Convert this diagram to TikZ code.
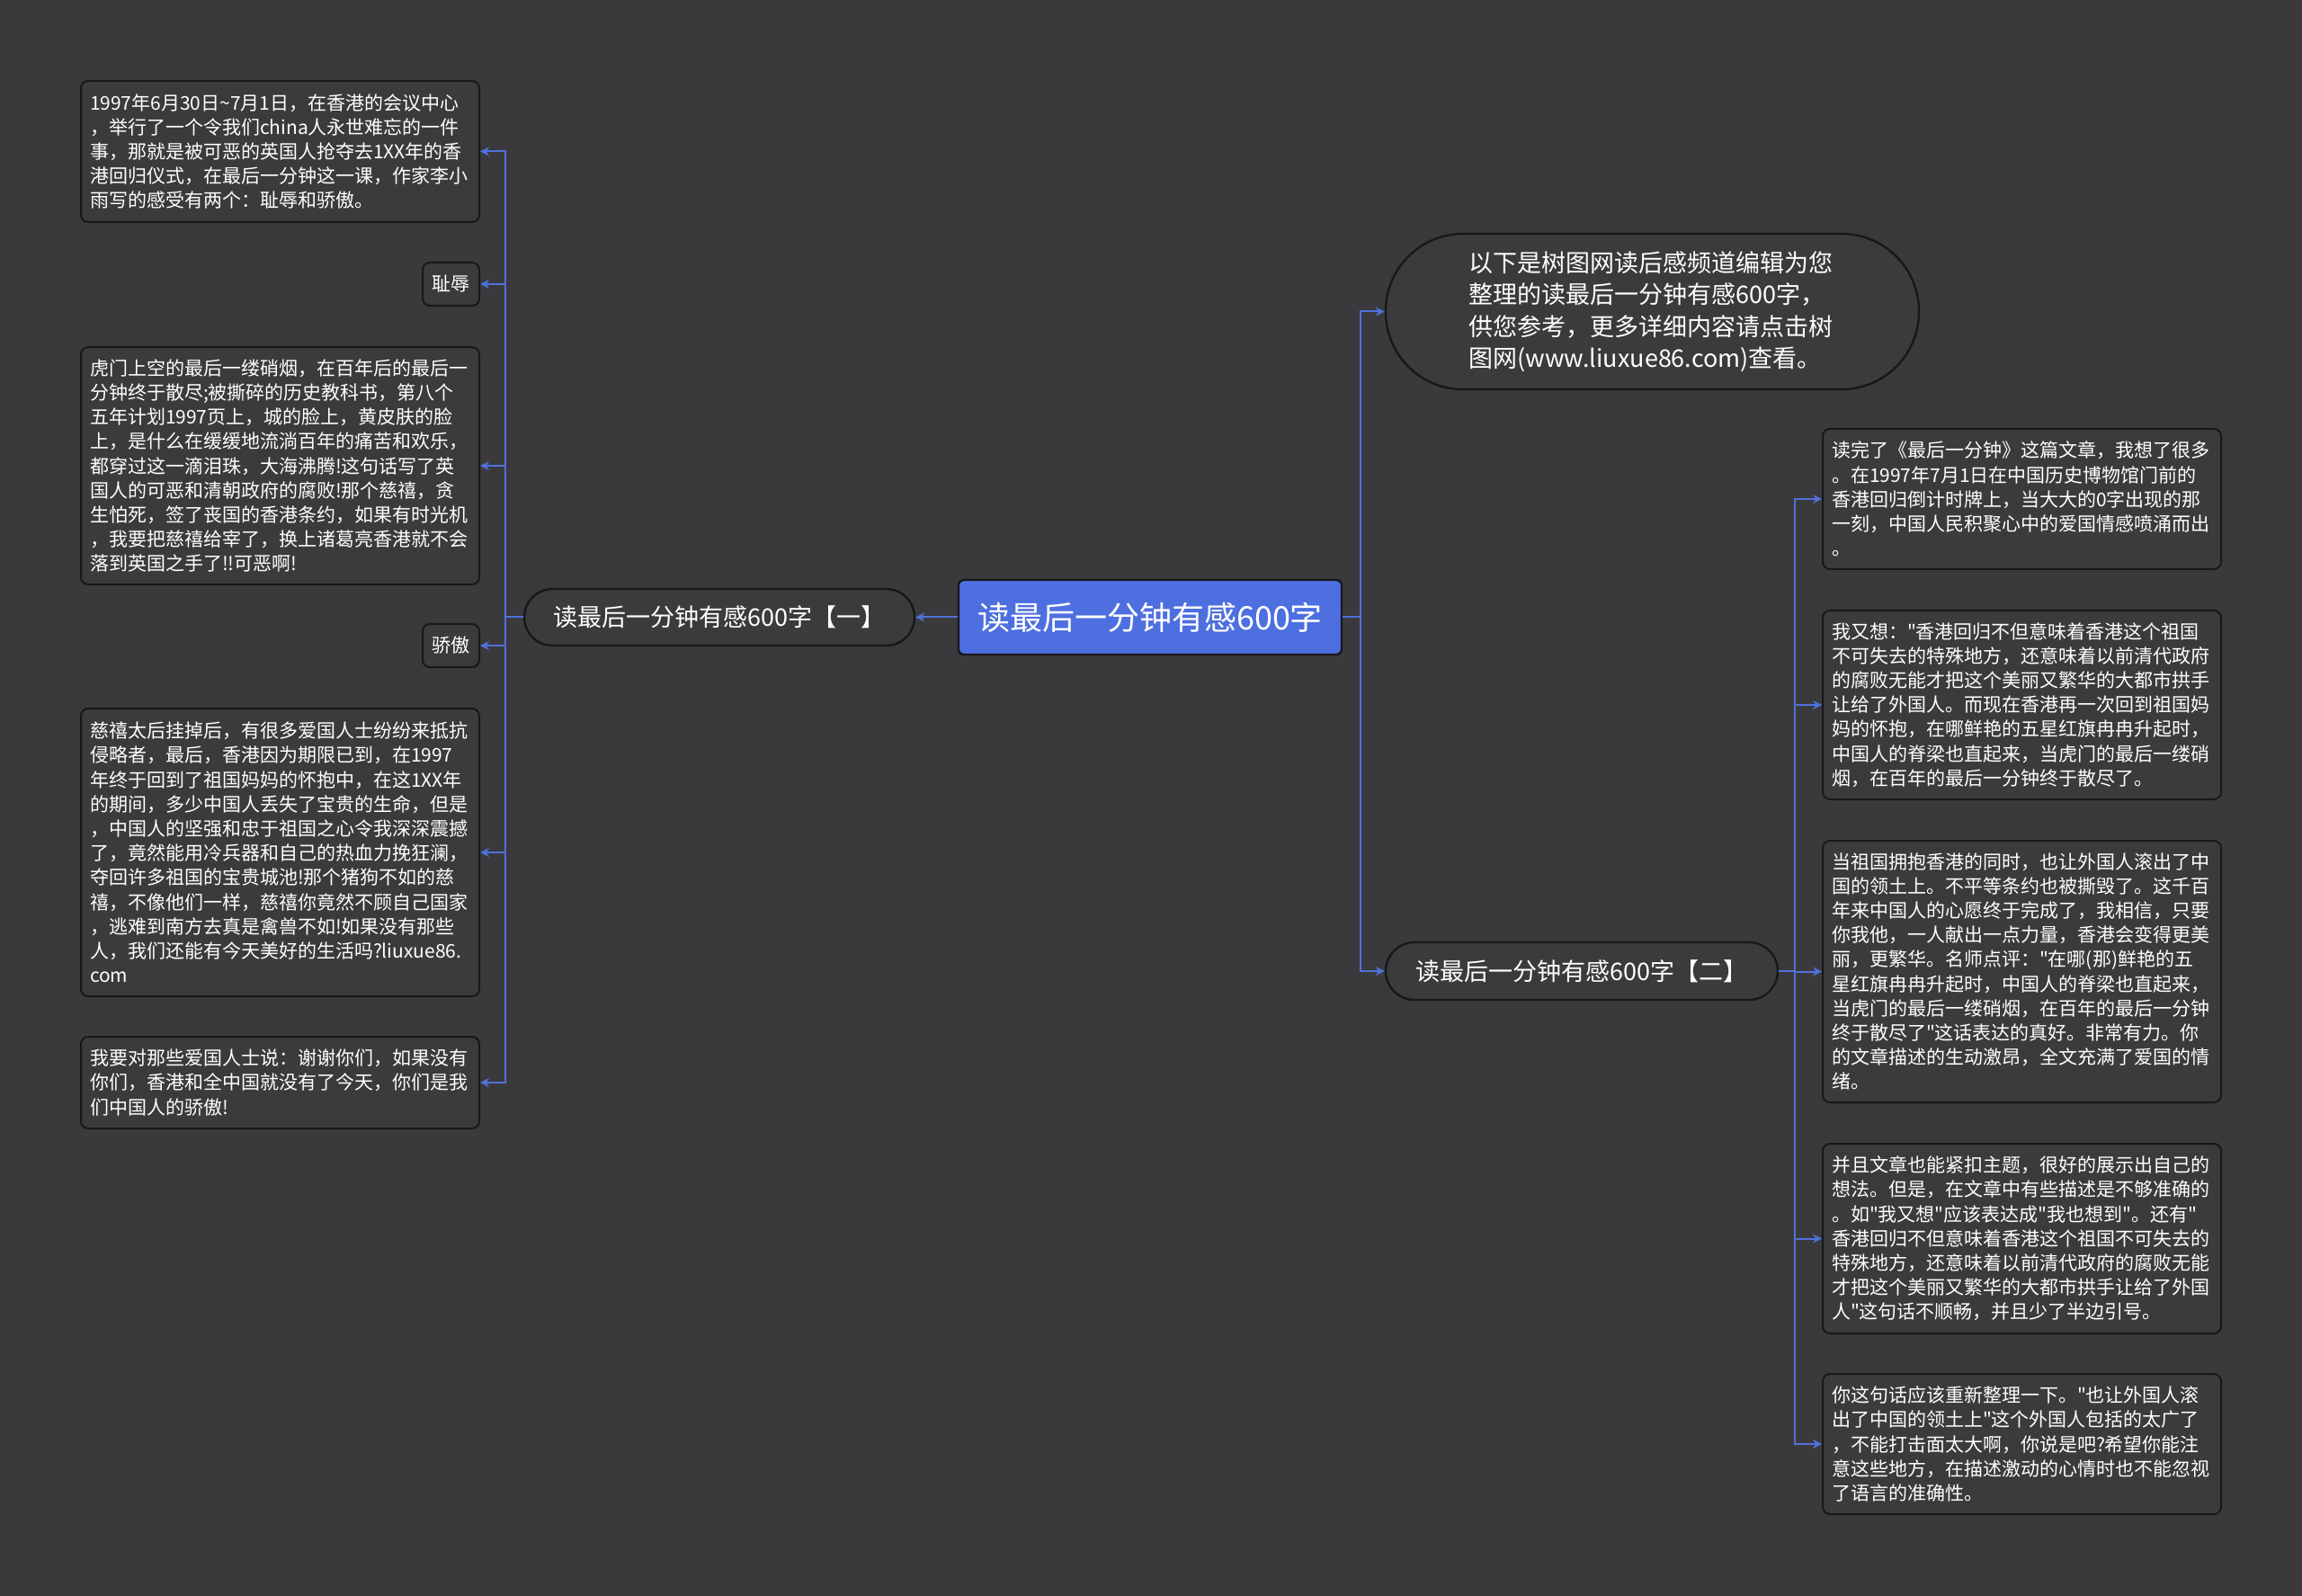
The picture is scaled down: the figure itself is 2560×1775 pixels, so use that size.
\documentclass[tikz,border=0pt]{standalone}
\usepackage{fontspec}
\setmainfont{Noto Sans CJK SC}[Ligatures=TeXOff]
\usetikzlibrary{arrows.meta}
\definecolor{bgc}{HTML}{3A3A3C}
\definecolor{boxc}{HTML}{3B3B3D}
\definecolor{edgec}{HTML}{18181A}
\definecolor{bluec}{HTML}{4E6FDF}
\definecolor{linec}{HTML}{5071DC}
\tikzset{
 leaf/.style={draw=edgec, fill=boxc, line width=1pt, rounded corners=4pt, text=white,
   align=left, text width=211.5pt, inner xsep=5pt, inner ysep=2pt,
   font=\fontsize{10.5pt}{13.6pt}\selectfont},
 tagbox/.style={draw=edgec, fill=boxc, line width=1pt, rounded corners=4pt, text=white,
   font=\fontsize{10.5pt}{13.5pt}\selectfont, minimum width=31.5pt, minimum height=24pt, inner sep=0pt},
 midbox/.style={draw=edgec, fill=boxc, line width=1.2pt, text=white,
   font=\fontsize{13.5pt}{17.75pt}\selectfont, inner sep=0pt},
 rootbox/.style={draw=edgec, fill=bluec, line width=1.2pt, text=white, rounded corners=3pt,
   font=\fontsize{18pt}{22pt}\selectfont, inner sep=0pt, minimum width=213pt, minimum height=41.5pt},
 conn/.style={draw=linec, line width=1pt, -{Stealth[length=5pt,width=5pt]}},
}
\begin{document}
\begin{tikzpicture}[x=0.5pt,y=-0.5pt]
\fill[bgc] (0,0) rectangle (2560,1775);
\useasboundingbox (0,0) rectangle (2560,1775);

\node[rootbox] (root) at (1279,686.5) {读最后一分钟有感600字};

\node[midbox, rounded corners=15.75pt, minimum width=217pt, minimum height=31.5pt] (n1) at (800,686.5) {读最后一分钟有感600字【一】};
\node[midbox, rounded corners=16pt, minimum width=218pt, minimum height=32pt] (n2) at (1759,1080) {读最后一分钟有感600字【二】};
\node[midbox, rounded corners=43pt, minimum width=296.5pt, minimum height=86.5pt, align=left, inner xsep=0pt] (top) at (1837.5,346.5) {以下是树图网读后感频道编辑为您\\整理的读最后一分钟有感600字，\\供您参考，更多详细内容请点击树\\图网(www.liuxue86.com)查看。\hspace*{8pt}};

% left leaves
\node[leaf, minimum height=78.5pt] (L1) at (311.5,168.5) {1997年6月30日\textasciitilde7月1日，在香港的会议中心\\，举行了一个令我们china人永世难忘的一件\\事，那就是被可恶的英国人抢夺去1XX年的香\\港回归仪式，在最后一分钟这一课，作家李小\\雨写的感受有两个：耻辱和骄傲。};
\node[tagbox] (T1) at (501.5,316) {耻辱};
\node[leaf, minimum height=132pt] (L2) at (311.5,518) {虎门上空的最后一缕硝烟，在百年后的最后一\\分钟终于散尽;被撕碎的历史教科书，第八个\\五年计划1997页上，城的脸上，黄皮肤的脸\\上，是什么在缓缓地流淌百年的痛苦和欢乐，\\都穿过这一滴泪珠，大海沸腾!这句话写了英\\国人的可恶和清朝政府的腐败!那个慈禧，贪\\生怕死，签了丧国的香港条约，如果有时光机\\，我要把慈禧给宰了，换上诸葛亮香港就不会\\落到英国之手了!!可恶啊!};
\node[tagbox] (T2) at (501.5,718) {骄傲};
\node[leaf, minimum height=160pt] (L3) at (311.5,948) {慈禧太后挂掉后，有很多爱国人士纷纷来抵抗\\侵略者，最后，香港因为期限已到，在1997\\年终于回到了祖国妈妈的怀抱中，在这1XX年\\的期间，多少中国人丢失了宝贵的生命，但是\\，中国人的坚强和忠于祖国之心令我深深震撼\\了，竟然能用冷兵器和自己的热血力挽狂澜，\\夺回许多祖国的宝贵城池!那个猪狗不如的慈\\禧，不像他们一样，慈禧你竟然不顾自己国家\\，逃难到南方去真是禽兽不如!如果没有那些\\人，我们还能有今天美好的生活吗?liuxue86.\\com};
\node[leaf, minimum height=51pt] (L4) at (311.5,1204) {我要对那些爱国人士说：谢谢你们，如果没有\\你们，香港和全中国就没有了今天，你们是我\\们中国人的骄傲!};

% right leaves
\node[leaf, minimum height=78pt] (R1) at (2248.5,555) {读完了《最后一分钟》这篇文章，我想了很多\\。在1997年7月1日在中国历史博物馆门前的\\香港回归倒计时牌上，当大大的0字出现的那\\一刻，中国人民积聚心中的爱国情感喷涌而出\\。};
\node[leaf, minimum height=105pt] (R2) at (2248.5,784) {我又想："香港回归不但意味着香港这个祖国\\不可失去的特殊地方，还意味着以前清代政府\\的腐败无能才把这个美丽又繁华的大都市拱手\\让给了外国人。而现在香港再一次回到祖国妈\\妈的怀抱，在哪鲜艳的五星红旗冉冉升起时，\\中国人的脊梁也直起来，当虎门的最后一缕硝\\烟，在百年的最后一分钟终于散尽了。};
\node[leaf, minimum height=145.5pt] (R3) at (2248.5,1080.5) {当祖国拥抱香港的同时，也让外国人滚出了中\\国的领土上。不平等条约也被撕毁了。这千百\\年来中国人的心愿终于完成了，我相信，只要\\你我他，一人献出一点力量，香港会变得更美\\丽，更繁华。名师点评："在哪(那)鲜艳的五\\星红旗冉冉升起时，中国人的脊梁也直起来，\\当虎门的最后一缕硝烟，在百年的最后一分钟\\终于散尽了"这话表达的真好。非常有力。你\\的文章描述的生动激昂，全文充满了爱国的情\\绪。};
\node[leaf, minimum height=105.5pt] (R4) at (2248.5,1377.5) {并且文章也能紧扣主题，很好的展示出自己的\\想法。但是，在文章中有些描述是不够准确的\\。如"我又想"应该表达成"我也想到"。还有"\\香港回归不但意味着香港这个祖国不可失去的\\特殊地方，还意味着以前清代政府的腐败无能\\才把这个美丽又繁华的大都市拱手让给了外国\\人"这句话不顺畅，并且少了半边引号。};
\node[leaf, minimum height=78pt] (R5) at (2248.5,1606) {你这句话应该重新整理一下。"也让外国人滚\\出了中国的领土上"这个外国人包括的太广了\\，不能打击面太大啊，你说是吧?希望你能注\\意这些地方，在描述激动的心情时也不能忽视\\了语言的准确性。};

% connectors
\draw[conn] (root.west) -- (n1.east);
\foreach \t in {L1,T1,L2,T2,L3,L4}{
  \draw[conn] (n1.west) -- ++(-20,0) |- (\t.east);
}
\draw[conn] (root.east) -- ++(20,0) |- (top.west);
\draw[conn] (root.east) -- ++(20,0) |- (n2.west);
\foreach \t in {R1,R2,R3,R4,R5}{
  \draw[conn] (n2.east) -- ++(18,0) |- (\t.west);
}
\end{tikzpicture}
\end{document}
